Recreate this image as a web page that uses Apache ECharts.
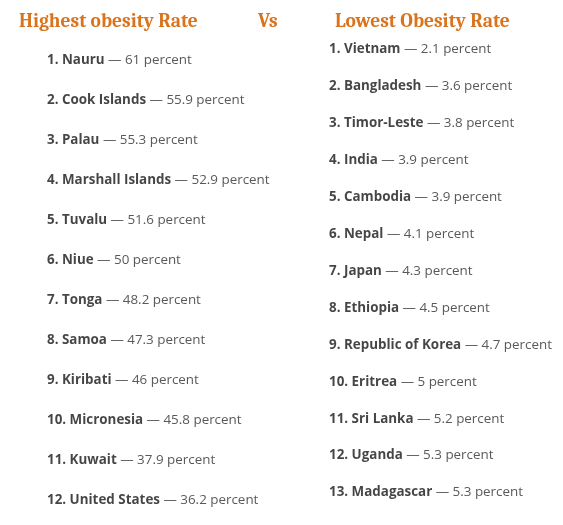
<!DOCTYPE html>
<html><head><meta charset="utf-8">
<script src="https://cdn.jsdelivr.net/npm/echarts@6/dist/echarts.min.js"></script>
<style>html,body{margin:0;padding:0;background:#fff}#c{width:563px;height:525px}</style>
</head><body><div id="c"></div>
<script>
const highCountries = ["Nauru","Cook Islands","Palau","Marshall Islands","Tuvalu","Niue","Tonga","Samoa","Kiribati","Micronesia","Kuwait","United States"];
const highValues = ["61","55.9","55.3","52.9","51.6","50","48.2","47.3","46","45.8","37.9","36.2"];
const lowCountries = ["Vietnam","Bangladesh","Timor-Leste","India","Cambodia","Nepal","Japan","Ethiopia","Republic of Korea","Eritrea","Sri Lanka","Uganda","Madagascar"];
const lowValues = ["2.1","3.6","3.8","3.9","3.9","4.1","4.3","4.5","4.7","5","5.2","5.3","5.3"];
const titles = ["Highest obesity Rate","Vs","Lowest Obesity Rate"];

const chart = echarts.init(document.getElementById('c'), null, {renderer:'canvas'});
const font = '"Open Sans", Lato, sans-serif';
const rich = {
  n:{fontFamily:font,fontWeight:'bold',fontSize:13.4,color:'#161616'},
  v:{fontFamily:font,fontSize:13.4,color:'#2e2e2e'}
};
function series(idx, names, vals){
  return {
    type:'scatter', xAxisIndex:idx, yAxisIndex:idx, symbolSize:0, silent:true,
    data: names.map((n,i)=>({value:[0,i], name:n, v:vals[i]})),
    label:{show:true, position:'right', distance:0,
      formatter:p=>'{n|'+(p.dataIndex+1)+'. '+p.data.name+'}{v| — '+p.data.v+' percent}', rich:rich}
  };
}
const titleStyle = {fontFamily:'Cambria, "Liberation Serif", serif', fontWeight:'bold', fontSize:19.5, color:'#d9741d'};
chart.setOption({
  animation:false,
  title:[
    {text:titles[0], left:19, top:11, padding:0, textStyle:titleStyle},
    {text:titles[1], left:258, top:11, padding:0, textStyle:titleStyle},
    {text:titles[2], left:335, top:11, padding:0, textStyle:titleStyle}
  ],
  grid:[
    {left:47, top:40.5, width:200, height:480},
    {left:329, top:31, width:200, height:480}
  ],
  xAxis:[
    {gridIndex:0, type:'value', min:0, max:1, show:false},
    {gridIndex:1, type:'value', min:0, max:1, show:false}
  ],
  yAxis:[
    {gridIndex:0, type:'category', inverse:true, data:highCountries, show:false},
    {gridIndex:1, type:'category', inverse:true, data:lowCountries, show:false}
  ],
  series:[series(0, highCountries, highValues), series(1, lowCountries, lowValues)]
});
</script></body></html>
